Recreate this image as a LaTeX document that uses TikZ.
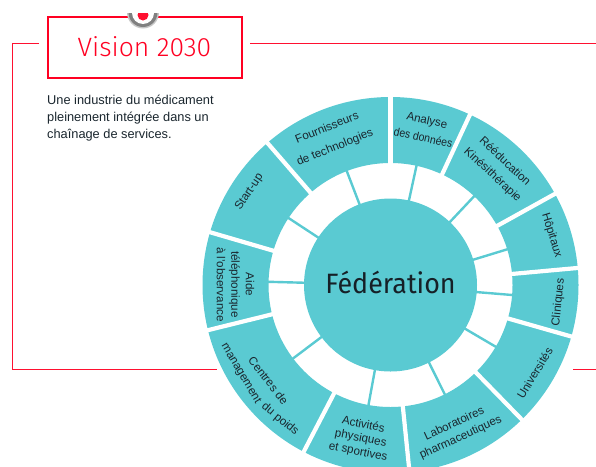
\documentclass[tikz,border=0pt]{standalone}
\usepackage{fontspec}
\setmainfont{Liberation Sans}
\newfontfamily\titlefont[UprightFont=* Light]{Fira Sans}
\newfontfamily\hubfont{Fira Sans}
\definecolor{teal1}{HTML}{5ACAD2}
\definecolor{red1}{HTML}{FF1030}
\definecolor{boxred}{HTML}{FF0022}
\definecolor{ink}{HTML}{1A262E}
\tikzset{
  redline/.style={draw=red1,line width=1.1pt},
  gapline/.style={draw=white,line width=4.2pt},
  spoke/.style={draw=teal1,line width=2.4pt},
  wheeltext/.style={inner sep=0pt,align=center,text=ink},
}
% name, radius, angle, rotation, leading, text
\newcommand{\wlabel}[6]{\node[wheeltext,rotate=#4,font=\fontsize{11.6}{#5}\selectfont] (#1) at ([shift={(#3:#2)}]c) {#6};}
\begin{document}
\begin{tikzpicture}[x=1pt,y=1pt]
\useasboundingbox (0,0) rectangle (596,-466);
\clip (0,0) rectangle (596,-466);
\coordinate (c) at (390.5,-285);
% frame lines
\coordinate (la) at (39,-43.5);
\coordinate (lb) at (12.8,-43.5);
\coordinate (lc) at (12.8,-369.5);
\coordinate (ld) at (217,-369.5);
\coordinate (ra) at (250,-43.5);
\coordinate (rb) at (596,-43.5);
\coordinate (rc) at (573,-369.5);
\coordinate (rd) at (596,-369.5);
\draw[redline] (la) -- (lb) -- (lc) -- (ld);
\draw[redline] (ra) -- (rb);
\draw[redline] (rc) -- (rd);
% title box
\node[draw=boxred,line width=2pt,fill=white,minimum width=194.5pt,minimum height=60.5pt,anchor=north west,inner sep=0pt] (title) at (46.8,-16) {};
\node[text=boxred,anchor=center,font=\titlefont\fontsize{26.5}{26.5}\selectfont] (titletext) at (144.5,-47) {Vision 2030};
% pin
\begin{scope}
\clip (120,-13) rectangle (170,-40);
\fill[black!22] (143,-12.5) circle[radius=16];
\fill[black!50] (143,-12.5) circle[radius=14.5];
\fill[white] (143,-13) circle[radius=11];
\fill[red1] (143,-15) circle[radius=5.5];
\end{scope}
% body text
\node[anchor=north west,align=left,inner sep=0pt,text=ink,font=\fontsize{12.8}{16.8}\selectfont] (body) at (47,-95) {Une industrie du médicament\\pleinement intégrée dans un\\chaînage de services.};
% wheel
\fill[teal1,even odd rule] (c) circle[radius=188] (c) circle[radius=122];
\foreach \a in {90,65,29,5.2,-15.9,-45.7,-84.2,-117.5,-166.1,163.7,130.9}
  \draw[gapline] (c) ++(\a:119) -- ++(\a:72);
\foreach \a in {111,146.7,178.5,217,259.6,-63.6,-30.4,-4.7,17,46.7,77.7}
  \draw[spoke] (c) ++(\a:84) -- ++(\a:38.5);
\node[circle,fill=teal1,minimum size=173pt,inner sep=0pt] (hub) at (c) {};
\node[text=ink!85!black,xscale=0.96,font=\hubfont\fontsize{28}{28}\selectfont] (hubtext) at (390.5,-282) {Fédération};
% labels
\wlabel{fourn}{158.5}{112}{22}{21}{Fournisseurs\\de technologies}
\wlabel{start}{169}{146.6}{56.6}{14}{Start-up}
\wlabel{analyse}{160}{77.5}{-12.5}{18}{Analyse\\\scalebox{0.9}[1]{des données}}
\wlabel{reedu}{159}{47.2}{-43}{18}{Rééducation\\Kinésithérapie}
\wlabel{hopitaux}{168.7}{17.2}{-72.8}{14}{Hôpitaux}
\wlabel{cliniques}{169}{-5.9}{84.1}{14}{Cliniques}
\wlabel{univ}{169}{-31.4}{58.6}{14}{Universités}
\wlabel{labo}{160.5}{-65.3}{24.7}{15}{Laboratoires\\pharmaceutiques}
\wlabel{activ}{156.3}{259}{-11}{13.7}{Activités\\physiques\\et sportives}
\wlabel{aide}{155}{179.8}{269.8}{14.5}{Aide\\téléphonique\\à l'observance}
\wlabel{centres}{155}{218}{308}{14}{Centres de}
\wlabel{manag}{174}{210.6}{300.6}{14}{management}
\wlabel{poids}{174}{230.6}{320.6}{14}{du poids}
\end{tikzpicture}
\end{document}
